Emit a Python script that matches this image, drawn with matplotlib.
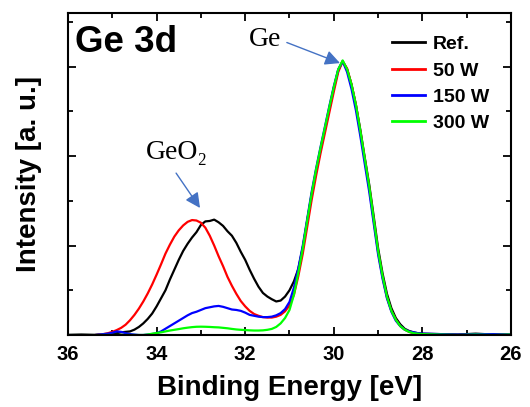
import numpy as np
import matplotlib
matplotlib.use("Agg")
import matplotlib.pyplot as plt
from matplotlib.ticker import MultipleLocator, NullFormatter

plt.rcParams['font.family'] = ['Liberation Sans', 'DejaVu Sans']
plt.rcParams['font.weight'] = 'bold'

# Binding energy grid (eV)
energy = np.concatenate([[36.0, 35.7], np.round(np.arange(35.4, 27.95, -0.1), 2),
                         [27.6, 27.2, 26.8, 26.4, 26.0]])

ref_vals = [0.0, 0.005,
            0.0, 0.005, 0.0, 0.005, 0.01,
            0.02, 0.03, 0.035, 0.04, 0.06, 0.09, 0.13, 0.18, 0.24, 0.32,
            0.41, 0.50, 0.62, 0.73, 0.84, 0.94, 1.02, 1.09, 1.15, 1.23,
            1.27, 1.275, 1.29, 1.26, 1.22, 1.16, 1.11, 1.03, 0.93, 0.84,
            0.73, 0.63, 0.54, 0.47, 0.43, 0.40, 0.375, 0.385, 0.43, 0.50,
            0.60,
            0.74, 0.98, 1.28, 1.57, 1.83, 2.07, 2.30, 2.53, 2.76, 2.96,
            3.06, 2.97, 2.80, 2.57, 2.29, 1.98, 1.68, 1.33, 0.97, 0.69,
            0.46, 0.30, 0.19, 0.12, 0.07, 0.045, 0.03, 0.02, 0.015,
            0.01, 0.005, 0.015, 0.005, 0.005]

w50_vals = [0.0, 0.0,
            0.0, 0.005, 0.01, 0.02, 0.035,
            0.055, 0.08, 0.115, 0.165, 0.225, 0.295, 0.375, 0.465, 0.565, 0.675,
            0.79, 0.91, 1.01, 1.10, 1.17, 1.225, 1.265, 1.285, 1.28, 1.255,
            1.20, 1.11, 1.00, 0.88, 0.77, 0.65, 0.55, 0.46, 0.38, 0.32,
            0.27, 0.235, 0.215, 0.20, 0.195, 0.195, 0.205, 0.225, 0.265, 0.33,
            0.45,
            0.66, 0.91, 1.21, 1.51, 1.78, 2.03, 2.26, 2.49, 2.72, 2.94,
            3.06, 2.98, 2.80, 2.57, 2.27, 1.96, 1.65, 1.29, 0.93, 0.65,
            0.42, 0.27, 0.17, 0.10, 0.06, 0.035, 0.02, 0.01, 0.01,
            0.005, 0.0, 0.005, 0.005, 0.0]

w150_vals = [0.0, 0.0,
             0.0, 0.005, 0.01, 0.015, 0.025,
             0.04, 0.035, 0.02, 0.01, 0.005, 0.0, 0.0, 0.005, 0.01, 0.02,
             0.04, 0.07, 0.10, 0.13, 0.16, 0.19, 0.22, 0.245, 0.26, 0.28,
             0.30, 0.31, 0.32, 0.325, 0.315, 0.30, 0.285, 0.28, 0.27, 0.25,
             0.225, 0.215, 0.205, 0.20, 0.20, 0.205, 0.22, 0.245, 0.29, 0.37,
             0.53,
             0.75, 1.00, 1.30, 1.60, 1.86, 2.10, 2.33, 2.56, 2.78, 2.97,
             3.06, 2.94, 2.75, 2.51, 2.22, 1.91, 1.60, 1.25, 0.90, 0.63,
             0.41, 0.26, 0.16, 0.10, 0.06, 0.04, 0.03, 0.02, 0.015,
             0.01, 0.005, 0.01, 0.01, 0.005]

w300_vals = [0.0, 0.0,
             0.0, 0.0, 0.0, 0.0, 0.0,
             0.0, 0.0, 0.0, 0.0, 0.0, 0.0, 0.0, 0.005, 0.015, 0.022,
             0.03, 0.04, 0.05, 0.058, 0.066, 0.075, 0.082, 0.088, 0.092, 0.093,
             0.092, 0.09, 0.087, 0.085, 0.08, 0.075, 0.068, 0.062, 0.058, 0.055,
             0.052, 0.05, 0.05, 0.052, 0.058, 0.068, 0.09, 0.13, 0.19, 0.28,
             0.45,
             0.70, 0.97, 1.28, 1.58, 1.85, 2.09, 2.32, 2.55, 2.77, 2.97,
             3.07, 2.97, 2.80, 2.57, 2.28, 1.97, 1.66, 1.30, 0.94, 0.66,
             0.43, 0.27, 0.17, 0.10, 0.06, 0.035, 0.02, 0.015, 0.01,
             0.005, 0.0, 0.005, 0.0, 0.005]

labels = ['Ref.', '50 W', '150 W', '300 W']
colors = ['#000000', '#ff0000', '#0000ff', '#00ff00']
series = [ref_vals, w50_vals, w150_vals, w300_vals]

fig = plt.figure(figsize=(5.30, 4.07), dpi=100)
ax = fig.add_axes([68/530, 1 - 335/407, (511-68)/530, (335-13)/407])

for vals, lab, col in zip(series, labels, colors):
    assert len(vals) == len(energy)
    ax.plot(energy, vals, color=col, lw=1.6, label=lab)

ax.set_xlim(36, 26)
ax.set_ylim(0, 3.6)
ax.xaxis.set_major_locator(MultipleLocator(2))
ax.xaxis.set_minor_locator(MultipleLocator(1))
ax.yaxis.set_major_locator(MultipleLocator(1))
ax.yaxis.set_minor_locator(MultipleLocator(0.5))
ax.yaxis.set_major_formatter(NullFormatter())
ax.tick_params(which='both', direction='in', top=True, right=True, width=1.3)
ax.tick_params(which='major', length=6, labelsize=14.5, pad=7)
ax.tick_params(which='minor', length=3.5)
for lbl in ax.get_xticklabels():
    lbl.set_fontweight('bold')
for s in ax.spines.values():
    s.set_linewidth(1.5)

ax.set_xlabel('Binding Energy [eV]', fontsize=20, fontweight='bold', labelpad=8)
ax.set_ylabel('Intensity [a. u.]', fontsize=20, fontweight='bold', labelpad=12)

ax.text(0.015, 0.962, 'Ge 3d', transform=ax.transAxes, fontsize=26.5,
        fontweight='bold', va='top', ha='left')

leg = ax.legend(loc='upper left', bbox_to_anchor=(0.731, 0.93), frameon=False,
                fontsize=14, handlelength=1.7, handletextpad=0.4,
                labelspacing=0.45, borderpad=0, borderaxespad=0)
for t in leg.get_texts():
    t.set_fontweight('bold')
for h in leg.get_lines():
    h.set_linewidth(2)

arrow_col = '#4472C4'
serif = ['Liberation Serif', 'DejaVu Serif']
ax.annotate('', xy=(29.86, 3.04), xytext=(31.06, 3.27),
            arrowprops=dict(arrowstyle='-|>,head_length=0.9,head_width=0.45',
                            color=arrow_col, lw=1.0, shrinkA=0, shrinkB=0))
ax.text(31.55, 3.30, 'Ge', fontsize=20, family=serif, fontweight='normal',
        ha='center', va='center')
ax.annotate('', xy=(33.02, 1.42), xytext=(33.56, 1.81),
            arrowprops=dict(arrowstyle='-|>,head_length=0.9,head_width=0.45',
                            color=arrow_col, lw=1.0, shrinkA=0, shrinkB=0))
ax.text(33.54, 2.04, 'GeO₂', fontsize=20, family=serif, fontweight='normal',
        ha='center', va='center')

fig.savefig('out.png', dpi=100)
